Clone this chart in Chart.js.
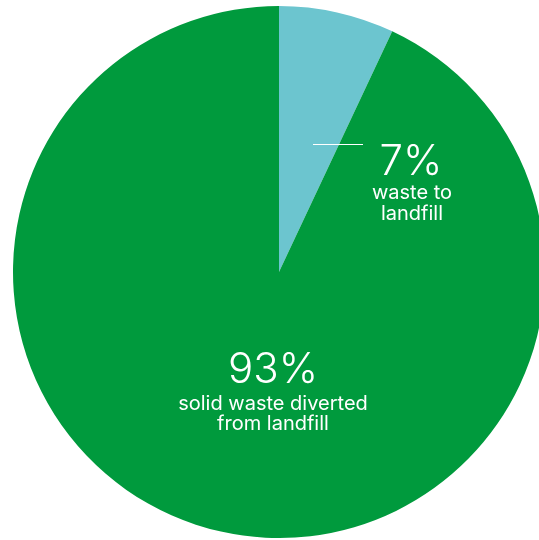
<!DOCTYPE html>
<html lang="en">

<head>
    <meta charset="UTF-8">
    <title>Solid waste</title>
    <script src="https://cdn.jsdelivr.net/npm/chart.js"></script>
    <style>
        body { margin: 0; background: #fff; overflow: hidden; }
        .grafico { position: absolute; left: 0; top: 6px; width: 558px; height: 532px; }
    </style>
</head>

<body>
    <div class="grafico"><canvas id="graficoPizza" width="558" height="532"></canvas></div>

    <script>
        const categorias = ["waste to landfill", "solid waste diverted from landfill"];
        const valores = [7, 93];
        const cores = ["#6cc5cf", "#009a3d"];

        // rotulos desenhados por cima das fatias
        const rotulos = {
            id: "rotulos",
            afterDatasetsDraw(chart) {
                const arc = chart.getDatasetMeta(0).data[0];
                const cx = arc.x, cy = arc.y;
                const ctx = chart.ctx;
                ctx.save();
                ctx.fillStyle = "#fff";
                ctx.textAlign = "center";
                ctx.textBaseline = "alphabetic";

                ctx.font = "300 42px Inter";
                ctx.fillText(valores[1] + "%", cx - 6, cy + 111);
                ctx.fillText(valores[0] + "%", cx + 132, cy - 97);

                ctx.font = "400 20px Inter";
                ctx.fillText("solid waste diverted", cx - 6, cy + 138);
                ctx.fillText("from landfill", cx - 6, cy + 158);
                ctx.fillText("waste to", cx + 133, cy - 73);
                ctx.fillText("landfill", cx + 133, cy - 52);

                ctx.strokeStyle = "#fff";
                ctx.lineWidth = 1;
                ctx.beginPath();
                ctx.moveTo(cx + 34, cy - 127.5);
                ctx.lineTo(cx + 84, cy - 127.5);
                ctx.stroke();
                ctx.restore();
            }
        };

        new Chart(document.getElementById("graficoPizza"), {
            type: "pie",
            data: {
                labels: categorias,
                datasets: [{
                    data: valores,
                    backgroundColor: cores,
                    borderWidth: 0,
                    hoverOffset: 0
                }]
            },
            options: {
                responsive: false,
                animation: false,
                devicePixelRatio: 1,
                layout: { padding: 0 },
                plugins: {
                    legend: { display: false },
                    tooltip: { enabled: false }
                }
            },
            plugins: [rotulos]
        });
    </script>
</body>

</html>
